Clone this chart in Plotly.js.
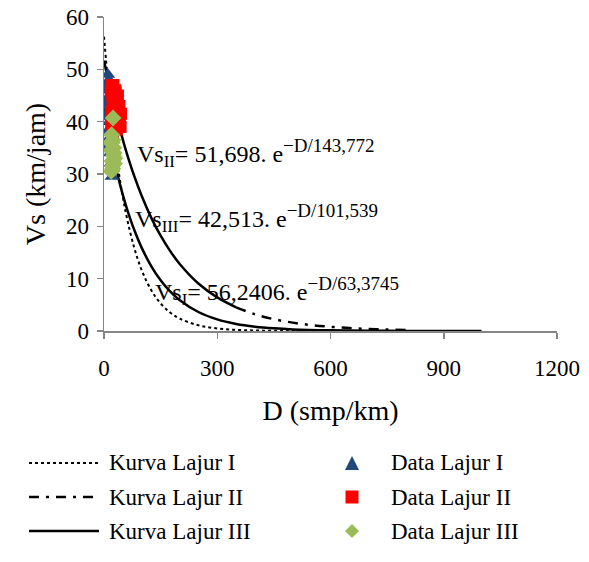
<!DOCTYPE html>
<html>
<head>
<meta charset="utf-8">
<script src="https://cdn.plot.ly/plotly-3.0.1.min.js"></script>
<style>html,body{margin:0;padding:0;background:#fff;}#chart{width:589px;height:562px;}</style>
</head>
<body>
<div id="chart"></div>
<script>
// ---- Curve samples ----
var curveD1 = [0, 10, 20, 30, 40, 50, 60, 80, 100, 125, 150, 175, 200, 250, 300, 350, 400, 450, 500, 550];
var curveV1 = [56.24, 48.03, 41.02, 35.03, 29.92, 25.55, 21.82, 15.92, 11.61, 7.82, 5.27, 3.55, 2.39, 1.09, 0.49, 0.22, 0.10, 0.05, 0.02, 0.01];

// Lajur II: steep part drawn solid, flat tail drawn dash-dot (as in the original)
var curveD2a = [0, 10, 20, 30, 40, 50, 60, 80, 100, 125, 150, 175, 200, 250, 300, 350];
var curveV2a = [51.70, 48.22, 44.98, 41.96, 39.14, 36.51, 34.05, 29.63, 25.79, 21.67, 18.21, 15.31, 12.86, 9.08, 6.42, 4.53];
var curveD2b = [350, 400, 450, 500, 550, 600, 650, 700, 750, 800];
var curveV2b = [4.53, 3.20, 2.26, 1.60, 1.13, 0.80, 0.56, 0.40, 0.28, 0.20];

var curveD3 = [0, 10, 20, 30, 40, 50, 60, 80, 100, 125, 150, 175, 200, 250, 300, 350, 400, 450, 500, 600, 700, 800, 900, 1000];
var curveV3 = [42.51, 38.53, 34.91, 31.64, 28.67, 25.98, 23.54, 19.34, 15.88, 12.41, 9.70, 7.58, 5.93, 3.63, 2.21, 1.35, 0.83, 0.51, 0.31, 0.12, 0.04, 0.02, 0.01, 0.00];

// ---- Observed data ----
var dataD1 = [3, 5, 6, 8, 10, 7, 4, 12, 9, 14, 16, 18, 21, 22, 11, 15, 2, 13];
var dataV1 = [44, 41, 43, 47, 49, 38, 46, 44, 36, 40, 34, 32, 29.5, 31, 42, 37, 35, 48];

var dataD2 = [18, 22, 25, 28, 30, 32, 35, 38, 40, 20, 26, 33, 36, 24, 29, 42, 19, 44, 37, 23, 31, 27, 45, 34, 41, 21];
var dataV2 = [46, 45, 47, 44, 46, 43, 42, 41, 40, 42, 40, 39, 44, 38, 41, 40.5, 39.5, 39, 45, 44, 45.5, 42.5, 41.5, 38.5, 43, 47];

var dataD3 = [24, 20, 22, 26, 18, 25, 21, 28, 23, 19, 27, 24, 22, 17, 29];
var dataV3 = [40.7, 37.5, 36, 35, 34.5, 33.5, 32.5, 32, 31, 30.5, 34, 36.5, 31.5, 36, 33];

// ---- Text ----
var xTicks = [0, 300, 600, 900, 1200];
var yTicks = [0, 10, 20, 30, 40, 50, 60];
var xTitle = 'D (smp/km)';
var yTitle = 'Vs (km/jam)';
var eqII = ['Vs', 'II', '= 51,698. e', '\u2212D/143,772'];
var eqIII = ['Vs', 'III', '= 42,513. e', '\u2212D/101,539'];
var eqI = ['Vs', 'I', '= 56,2406. e', '\u2212D/63,3745'];
var legendNames = ['Kurva Lajur I', 'Kurva Lajur II', 'Kurva Lajur III', 'Data Lajur I', 'Data Lajur II', 'Data Lajur III'];

var FONT = 'Liberation Serif, Times New Roman, serif';
var BLUE = '#1F497D', RED = '#FF0000', GREEN = '#9BBB59', AXIS = '#868686';
var DASHDOT = '10px,7px,3px,7px';

var M = {l: 104, r: 32, t: 17, b: 231};
var W = 589, H = 562;
var PW = W - M.l - M.r, PH = H - M.t - M.b;
function px(x) { return (x - M.l) / PW; }
function py(y) { return (H - M.b - y) / PH; }

function eqText(p) {
  return p[0] + '<sub>' + p[1] + '</sub>' + p[2] + '<sup><span style="font-size:19px">' + p[3] + '</span></sup>';
}

var traces = [
  {x: curveD1, y: curveV1, mode: 'lines', line: {color: '#000', width: 2, dash: 'dot', shape: 'spline'}, name: legendNames[0], showlegend: false},
  {x: curveD2a, y: curveV2a, mode: 'lines', line: {color: '#000', width: 2.5, shape: 'spline'}, name: legendNames[1], showlegend: false},
  {x: curveD2b, y: curveV2b, mode: 'lines', line: {color: '#000', width: 2.5, dash: DASHDOT, shape: 'spline'}, name: legendNames[1], showlegend: false},
  {x: curveD3, y: curveV3, mode: 'lines', line: {color: '#000', width: 2.5, shape: 'spline'}, name: legendNames[2], showlegend: false},
  {x: dataD1, y: dataV1, mode: 'markers', marker: {symbol: 'triangle-up', size: 13, color: BLUE}, name: legendNames[3], showlegend: false},
  {x: dataD2, y: dataV2, mode: 'markers', marker: {symbol: 'square', size: 12, color: RED}, name: legendNames[4], showlegend: false},
  {x: dataD3, y: dataV3, mode: 'markers', marker: {symbol: 'diamond', size: 13, color: GREEN}, name: legendNames[5], showlegend: false}
];

// custom legend (two columns)
var rowsY = [463, 497, 531];
var shapes = [];
var annotations = [];
var dashes = ['dot', DASHDOT, 'solid'];
var widths = [1.8, 2.5, 2.5];
for (var i = 0; i < 3; i++) {
  shapes.push({type: 'line', xref: 'paper', yref: 'paper', x0: px(29), x1: px(99), y0: py(rowsY[i]), y1: py(rowsY[i]),
    line: {color: '#000', width: widths[i], dash: dashes[i]}});
  annotations.push({xref: 'paper', yref: 'paper', x: px(107), y: py(rowsY[i]), xanchor: 'left', yanchor: 'middle',
    text: legendNames[i], showarrow: false, font: {family: FONT, size: 23, color: '#000'}});
  annotations.push({xref: 'paper', yref: 'paper', x: px(389), y: py(rowsY[i]), xanchor: 'left', yanchor: 'middle',
    text: legendNames[i + 3], showarrow: false, font: {family: FONT, size: 23, color: '#000'}});
}
// legend markers
var mx = 352;
shapes.push({type: 'path', xref: 'paper', yref: 'paper',
  path: 'M ' + px(mx - 7) + ' ' + py(rowsY[0] + 7) + ' L ' + px(mx + 7) + ' ' + py(rowsY[0] + 7) + ' L ' + px(mx) + ' ' + py(rowsY[0] - 7) + ' Z',
  fillcolor: BLUE, line: {width: 0}});
shapes.push({type: 'rect', xref: 'paper', yref: 'paper', x0: px(mx - 6.5), x1: px(mx + 6.5), y0: py(rowsY[1] + 6.5), y1: py(rowsY[1] - 6.5),
  fillcolor: RED, line: {width: 0}});
shapes.push({type: 'path', xref: 'paper', yref: 'paper',
  path: 'M ' + px(mx - 7) + ' ' + py(rowsY[2]) + ' L ' + px(mx) + ' ' + py(rowsY[2] - 7) + ' L ' + px(mx + 7) + ' ' + py(rowsY[2]) + ' L ' + px(mx) + ' ' + py(rowsY[2] + 7) + ' Z',
  fillcolor: GREEN, line: {width: 0}});

// equations
var eqFont = {family: FONT, size: 24, color: '#000'};
annotations.push({xref: 'paper', yref: 'paper', x: px(135), y: py(153), xanchor: 'left', yanchor: 'middle', text: eqText(eqII), showarrow: false, font: eqFont});
annotations.push({xref: 'paper', yref: 'paper', x: px(133), y: py(218), xanchor: 'left', yanchor: 'middle', text: eqText(eqIII), showarrow: false, font: eqFont});
annotations.push({xref: 'paper', yref: 'paper', x: px(153), y: py(291), xanchor: 'left', yanchor: 'middle', text: eqText(eqI), showarrow: false, font: eqFont});

var layout = {
  width: W, height: H,
  margin: M,
  paper_bgcolor: '#fff', plot_bgcolor: '#fff',
  showlegend: false,
  font: {family: FONT, size: 23, color: '#000'},
  xaxis: {
    range: [0, 1200], tickvals: xTicks, ticktext: xTicks.map(String),
    showgrid: false, zeroline: false, showline: true, linecolor: AXIS, linewidth: 1.5,
    ticks: 'outside', ticklen: 6, tickcolor: AXIS, tickwidth: 1.5,
    ticklabelstandoff: 10,
    tickfont: {family: FONT, size: 23, color: '#000'},
    title: {text: xTitle, font: {family: FONT, size: 28, color: '#000'}, standoff: 20},
    fixedrange: true
  },
  yaxis: {
    range: [0, 60], tickvals: yTicks, ticktext: yTicks.map(String),
    showgrid: false, zeroline: false, showline: true, linecolor: AXIS, linewidth: 1.5,
    ticks: 'outside', ticklen: 6, tickcolor: AXIS, tickwidth: 1.5,
    ticklabelstandoff: 3,
    tickfont: {family: FONT, size: 23, color: '#000'},
    title: {text: yTitle, font: {family: FONT, size: 28, color: '#000'}, standoff: 12},
    fixedrange: true
  },
  shapes: shapes,
  annotations: annotations
};

Plotly.newPlot('chart', traces, layout, {staticPlot: true, displayModeBar: false});
</script>
</body>
</html>
